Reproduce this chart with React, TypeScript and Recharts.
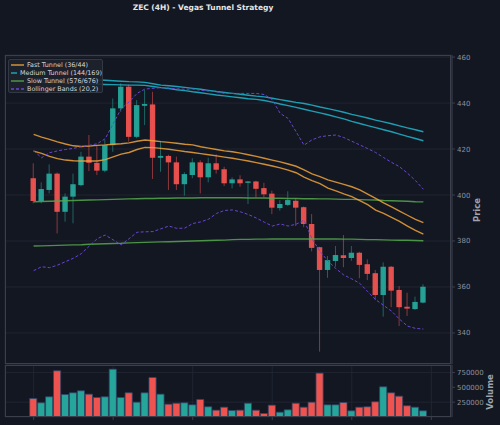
import React from 'react';
import { ComposedChart, Bar, Line, XAxis, YAxis, CartesianGrid, Cell } from 'recharts';

const openP = [407.3, 397.4, 402.2, 409.3, 392.7, 399.3, 404.3, 416.7, 414.0, 410.6, 421.7, 437.7, 447.1, 425.3, 438.8, 439.4, 416.2, 417.0, 414.2, 404.7, 408.7, 414.2, 407.7, 413.8, 411.2, 405.1, 406.8, 405.3, 405.9, 403.0, 400.6, 394.3, 395.7, 397.5, 394.7, 387.4, 377.3, 367.4, 371.3, 373.8, 372.6, 374.9, 369.9, 366.0, 356.5, 368.8, 358.7, 351.4, 350.4, 353.2];
const highP = [413.8, 405.5, 413.3, 409.8, 400.7, 409.3, 418.8, 426.1, 421.4, 423.9, 442.0, 448.6, 448.0, 441.3, 445.7, 444.9, 423.2, 417.5, 416.7, 409.9, 416.0, 415.1, 416.2, 417.7, 412.3, 407.7, 408.6, 406.1, 406.2, 405.3, 401.9, 397.8, 401.6, 398.6, 395.0, 391.7, 377.5, 373.5, 377.8, 382.6, 377.8, 375.3, 372.0, 367.4, 370.7, 369.1, 360.4, 357.5, 355.8, 361.2];
const lowP = [396.4, 396.4, 400.7, 383.3, 388.4, 387.7, 403.8, 410.4, 408.7, 409.9, 418.8, 436.2, 423.2, 424.7, 430.4, 407.0, 410.1, 402.2, 402.2, 399.7, 407.3, 400.7, 405.5, 409.3, 403.9, 402.9, 403.6, 396.1, 399.0, 399.0, 391.7, 393.2, 395.2, 386.5, 386.0, 375.5, 331.9, 364.0, 368.8, 368.6, 371.4, 363.8, 363.0, 354.3, 347.1, 351.2, 343.0, 347.4, 350.0, 352.9];
const closeP = [397.4, 402.6, 409.3, 392.7, 399.3, 404.7, 416.7, 414.0, 410.6, 421.7, 437.7, 447.1, 425.3, 439.1, 439.6, 416.2, 417.0, 414.2, 404.7, 409.1, 414.2, 407.7, 413.8, 411.0, 405.1, 406.8, 405.1, 405.9, 402.7, 400.3, 394.5, 396.1, 397.8, 394.5, 387.4, 377.0, 367.4, 371.7, 373.9, 372.6, 374.9, 369.6, 365.7, 356.5, 368.8, 358.4, 351.2, 350.6, 353.5, 360.1];
const volume = [311000, 239000, 340000, 778000, 379000, 407000, 441000, 384000, 328000, 340000, 805000, 328000, 407000, 249000, 407000, 665000, 384000, 216000, 232000, 239000, 205000, 295000, 172000, 115000, 165000, 109000, 115000, 232000, 115000, 59000, 199000, 81000, 121000, 232000, 165000, 249000, 738000, 205000, 205000, 244000, 104000, 165000, 172000, 256000, 508000, 407000, 350000, 189000, 165000, 104000];

const fastA = [426.4, 425.2, 424.2, 423.1, 422.2, 421.4, 421.1, 421.3, 421.6, 421.8, 422.1, 422.3, 422.7, 423.4, 423.9, 423.6, 423.2, 422.9, 422.5, 422.1, 421.8, 421.0, 420.4, 419.8, 419.2, 418.8, 418.2, 417.5, 416.8, 416.0, 415.2, 414.4, 413.5, 412.5, 410.9, 409.2, 408.0, 406.6, 405.6, 404.6, 403.6, 402.2, 400.4, 398.5, 396.6, 394.8, 393.0, 391.2, 389.4, 388.0];
const fastB = [419.1, 418.1, 416.8, 415.8, 415.2, 414.9, 414.8, 414.8, 414.8, 415.4, 416.6, 417.8, 418.5, 419.8, 420.7, 420.6, 420.3, 419.9, 419.4, 418.9, 418.5, 418.0, 417.5, 417.0, 416.5, 416.0, 415.4, 414.8, 414.1, 413.4, 412.6, 411.8, 410.8, 409.7, 407.8, 406.3, 405.0, 403.0, 401.8, 400.5, 399.3, 397.6, 395.8, 393.4, 392.0, 390.3, 388.5, 386.5, 384.6, 383.0];
const medA = [450.6, 450.5, 450.4, 450.3, 450.3, 450.2, 450.1, 450.1, 450.0, 449.9, 449.7, 449.5, 449.3, 449.2, 449.0, 448.4, 447.8, 447.5, 447.2, 446.8, 446.4, 446.0, 445.5, 445.0, 444.6, 444.2, 443.8, 443.4, 443.0, 442.7, 442.1, 441.5, 440.9, 440.3, 439.8, 439.1, 438.3, 437.6, 436.8, 436.0, 435.1, 434.3, 433.5, 432.6, 431.8, 431.0, 430.1, 429.2, 428.4, 427.5];
const medB = [449.3, 449.1, 448.9, 448.8, 448.6, 448.5, 448.4, 448.3, 448.2, 448.1, 448.0, 447.9, 447.8, 447.8, 447.7, 447.2, 446.7, 446.3, 445.8, 445.4, 444.9, 444.5, 444.0, 443.5, 443.1, 442.7, 442.3, 441.9, 441.6, 441.1, 440.4, 439.6, 438.9, 438.1, 437.3, 436.5, 435.7, 434.9, 434.0, 433.1, 432.0, 431.1, 430.2, 429.3, 428.4, 427.5, 426.5, 425.5, 424.6, 423.6];
const slowA = [397.1, 397.2, 397.3, 397.4, 397.5, 397.6, 397.7, 397.8, 397.9, 398.0, 398.1, 398.2, 398.3, 398.4, 398.5, 398.5, 398.6, 398.6, 398.7, 398.7, 398.7, 398.8, 398.8, 398.8, 398.8, 398.8, 398.8, 398.7, 398.7, 398.7, 398.6, 398.6, 398.5, 398.5, 398.4, 398.4, 398.3, 398.3, 398.2, 398.1, 398.1, 398.0, 397.9, 397.8, 397.6, 397.5, 397.4, 397.3, 397.1, 397.0];
const slowB = [377.8, 377.9, 378.0, 378.1, 378.2, 378.3, 378.4, 378.6, 378.7, 378.8, 378.9, 379.0, 379.2, 379.3, 379.4, 379.5, 379.6, 379.7, 379.8, 379.9, 380.0, 380.1, 380.2, 380.3, 380.4, 380.6, 380.7, 380.7, 380.8, 380.8, 380.9, 380.9, 380.9, 380.9, 380.9, 380.9, 380.9, 380.9, 380.9, 380.8, 380.8, 380.7, 380.6, 380.6, 380.5, 380.4, 380.3, 380.3, 380.2, 380.1];
const bbUpper = [419.3, 416.2, 418.4, 419.2, 419.8, 420.3, 421.0, 421.6, 422.3, 424.5, 431.0, 437.5, 440.5, 444.2, 446.1, 446.4, 446.7, 446.5, 446.2, 446.0, 446.1, 445.6, 445.2, 444.9, 444.2, 444.2, 444.2, 444.2, 444.2, 443.7, 441.5, 435.5, 433.3, 427.5, 421.7, 424.0, 425.3, 425.8, 426.1, 425.0, 423.4, 421.8, 420.2, 418.5, 416.3, 414.2, 412.3, 409.5, 406.3, 402.5];
const bbLower = [367.1, 368.8, 368.4, 369.5, 371.0, 372.5, 374.5, 377.8, 381.0, 382.6, 380.5, 378.3, 381.0, 383.8, 384.0, 384.1, 385.3, 386.5, 385.5, 385.6, 387.6, 388.3, 389.5, 392.0, 393.3, 393.5, 392.7, 391.5, 390.0, 388.2, 386.5, 387.4, 386.5, 387.3, 389.0, 381.0, 375.5, 371.3, 368.0, 365.2, 363.5, 361.6, 358.0, 354.5, 352.0, 349.5, 346.0, 343.0, 342.0, 341.7];

const xTicks = [0, 10, 20, 30, 40, 50];
const priceTicks = [340, 360, 380, 400, 420, 440, 460];
const volumeTicks = [250000, 500000, 750000];

const legendItems = [
  { name: 'Fast Tunnel (36/44)', color: '#f0a33a', dash: '' },
  { name: 'Medium Tunnel (144/169)', color: '#1fb7cc', dash: '' },
  { name: 'Slow Tunnel (576/676)', color: '#55a84c', dash: '' },
  { name: 'Bollinger Bands (20,2)', color: '#6a45d0', dash: '3 2' },
];

const UP = '#26a69a';
const DOWN = '#ef5350';
const BG = '#131722';
const GRID = '#232835';
const SPINE = '#3a3f4b';
const TXT = '#8d929c';
const FONT = 'DejaVu Sans, sans-serif';

const rows = openP.map((o, i) => ({
  i,
  open: o,
  high: highP[i],
  low: lowP[i],
  close: closeP[i],
  range: [lowP[i], highP[i]],
  vol: volume[i],
  fastA: fastA[i],
  fastB: fastB[i],
  medA: medA[i],
  medB: medB[i],
  slowA: slowA[i],
  slowB: slowB[i],
  bbUpper: bbUpper[i],
  bbLower: bbLower[i],
}));

// body + wick, placed inside the [low, high] bar that recharts hands us
function Candle(props: any) {
  const { x, y, width, height, payload } = props;
  const { open, close, high, low } = payload;
  const color = close >= open ? UP : DOWN;
  const top = Math.min(y, y + height);
  const h = Math.abs(height);
  const ppu = h / (high - low);
  const cx = x + width / 2;
  const bTop = top + (high - Math.max(open, close)) * ppu;
  const bBot = top + (high - Math.min(open, close)) * ppu;
  const bw = 5.4;
  return (
    <g>
      <line x1={cx} x2={cx} y1={top} y2={top + h} stroke={color} strokeOpacity={0.55} strokeWidth={1} />
      <rect x={cx - bw / 2} y={bTop} width={bw} height={Math.max(bBot - bTop, 1)} fill={color} fillOpacity={0.95} />
    </g>
  );
}

const axisTick = { fill: TXT, fontSize: 7, fontFamily: FONT };

export default function App() {
  return (
    <div style={{ position: 'absolute', left: 0, top: 0, width: 500, height: 425, background: BG, overflow: 'hidden', fontFamily: FONT }}>
      <div style={{ position: 'absolute', left: 203, top: 3, transform: 'translateX(-50%)', color: '#e6e6e6', fontSize: 7.5, fontWeight: 'bold', whiteSpace: 'nowrap' }}>
        ZEC (4H) - Vegas Tunnel Strategy
      </div>

      <div style={{ position: 'absolute', left: 0, top: 0 }}>
        <ComposedChart width={500} height={425} data={rows} margin={{ top: 55, right: 8, bottom: 61, left: 5 }}>
          <CartesianGrid stroke={GRID} strokeWidth={0.8} />
          <XAxis dataKey="i" type="number" domain={[-3.6, 52.6]} ticks={xTicks} height={0} tick={false} axisLine={false} tickLine={false} allowDataOverflow />
          <YAxis orientation="right" width={40} domain={[326.5, 460.9]} ticks={priceTicks} allowDataOverflow tick={axisTick} tickSize={3} stroke={SPINE} axisLine={{ stroke: SPINE }} tickLine={{ stroke: SPINE }} />
          <Bar dataKey="range" barSize={8} shape={<Candle />} isAnimationActive={false} />
          <Line dataKey="slowA" stroke="#55a84c" strokeOpacity={0.85} strokeWidth={1.4} dot={false} type="linear" isAnimationActive={false} />
          <Line dataKey="slowB" stroke="#55a84c" strokeOpacity={0.85} strokeWidth={1.4} dot={false} type="linear" isAnimationActive={false} />
          <Line dataKey="medA" stroke="#1fb7cc" strokeOpacity={0.85} strokeWidth={1.4} dot={false} type="linear" isAnimationActive={false} />
          <Line dataKey="medB" stroke="#1fb7cc" strokeOpacity={0.85} strokeWidth={1.4} dot={false} type="linear" isAnimationActive={false} />
          <Line dataKey="fastA" stroke="#f0a33a" strokeOpacity={0.85} strokeWidth={1.4} dot={false} type="linear" isAnimationActive={false} />
          <Line dataKey="fastB" stroke="#f0a33a" strokeOpacity={0.85} strokeWidth={1.4} dot={false} type="linear" isAnimationActive={false} />
          <Line dataKey="bbUpper" stroke="#6a45d0" strokeWidth={1} strokeDasharray="3 2" dot={false} type="linear" isAnimationActive={false} />
          <Line dataKey="bbLower" stroke="#6a45d0" strokeWidth={1} strokeDasharray="3 2" dot={false} type="linear" isAnimationActive={false} />
        </ComposedChart>
      </div>

      <div style={{ position: 'absolute', left: 0, top: 0 }}>
        <ComposedChart width={500} height={425} data={rows} margin={{ top: 365, right: 8, bottom: 0, left: 5 }}>
          <CartesianGrid stroke={GRID} strokeWidth={0.8} />
          <XAxis dataKey="i" type="number" domain={[-3.6, 52.6]} ticks={xTicks} height={8} tickFormatter={() => ''} tickSize={3} axisLine={false} tickLine={{ stroke: SPINE }} allowDataOverflow />
          <YAxis orientation="right" width={40} domain={[0, 875000]} ticks={volumeTicks} allowDataOverflow tick={axisTick} tickSize={3} axisLine={{ stroke: SPINE }} tickLine={{ stroke: SPINE }} />
          <Bar dataKey="vol" barSize={8} stroke="#2c4668" strokeWidth={0.8} isAnimationActive={false}>
            {rows.map((r) => (
              <Cell key={r.i} fill={r.close >= r.open ? UP : DOWN} />
            ))}
          </Bar>
        </ComposedChart>
      </div>

      <div style={{ position: 'absolute', left: 5, top: 55, width: 446, height: 309, border: `1px solid ${SPINE}`, boxSizing: 'border-box', pointerEvents: 'none' }} />
      <div style={{ position: 'absolute', left: 5, top: 365, width: 446, height: 52, border: `1px solid ${SPINE}`, boxSizing: 'border-box', pointerEvents: 'none' }} />

      <div style={{ position: 'absolute', left: 477, top: 210, transform: 'translate(-50%, -50%) rotate(-90deg)', color: '#9ea3ad', fontSize: 8.5, fontWeight: 'bold', whiteSpace: 'nowrap' }}>
        Price
      </div>
      <div style={{ position: 'absolute', left: 490, top: 392, transform: 'translate(-50%, -50%) rotate(-90deg)', color: '#9ea3ad', fontSize: 8.5, fontWeight: 'bold', whiteSpace: 'nowrap' }}>
        Volume
      </div>

      <div style={{ position: 'absolute', left: 8, top: 59, width: 95, height: 34, boxSizing: 'border-box', background: 'rgba(30,34,45,0.9)', border: '1px solid #333845', borderRadius: 2, padding: '1.5px 0 0 2px' }}>
        {legendItems.map((it) => (
          <div key={it.name} style={{ display: 'flex', alignItems: 'center', height: 7.9 }}>
            <svg width={13} height={6} style={{ marginRight: 3 }}>
              <line x1={0} x2={13} y1={3} y2={3} stroke={it.color} strokeWidth={1.3} strokeDasharray={it.dash} />
            </svg>
            <span style={{ color: '#d1d4dc', fontSize: 6.4, whiteSpace: 'nowrap' }}>{it.name}</span>
          </div>
        ))}
      </div>
    </div>
  );
}
